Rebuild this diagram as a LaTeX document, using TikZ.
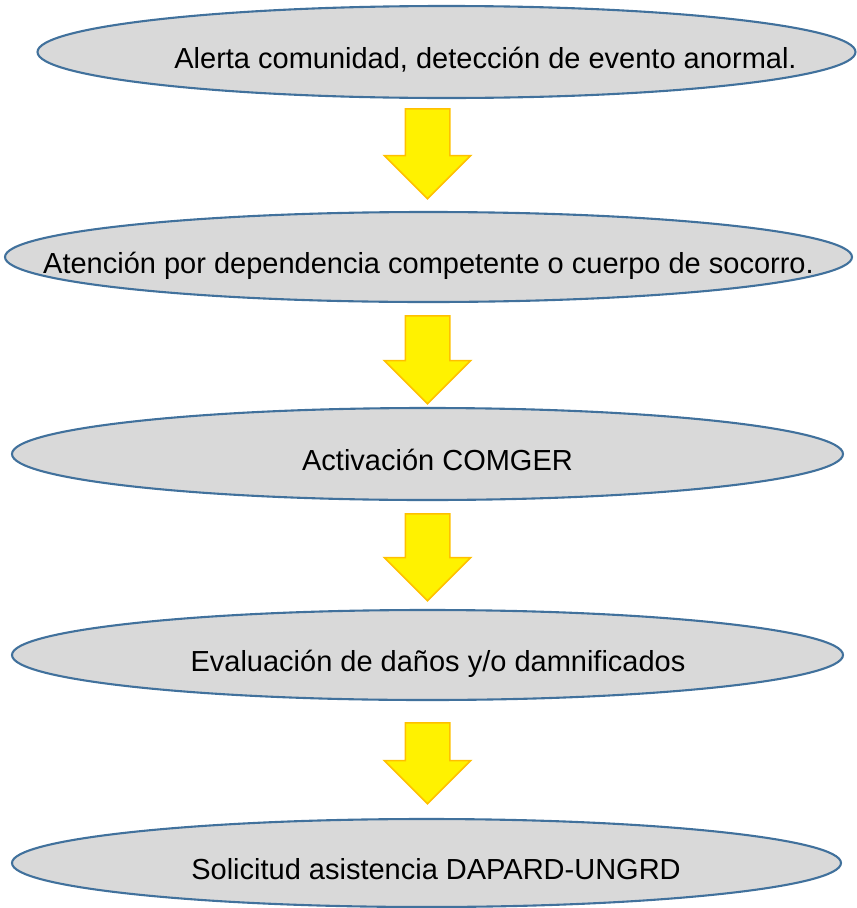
\documentclass[tikz,border=0pt]{standalone}
\usepackage{fontspec}
\setmainfont{Liberation Sans}
\usetikzlibrary{shapes.geometric, shapes.arrows}
\definecolor{stepgray}{HTML}{D9D9D9}
\definecolor{stepblue}{HTML}{41719C}
\definecolor{arrowline}{HTML}{FFC000}
\newcommand{\steplabel}[2]{\makebox[0pt]{\hspace*{#1}#2}}
\tikzstyle{stage} = [ellipse, draw=stepblue, line width=2.1pt, fill=stepgray, inner sep=0pt, text height=36pt, text depth=3pt, font=\fontsize{29}{34}\selectfont]
\tikzstyle{downarrow} = [single arrow, shape border rotate=270, anchor=tail, draw=arrowline, line width=1.5pt, fill=yellow, minimum width=85pt, single arrow head extend=21pt, inner sep=21.5pt]

\begin{document}
\begin{tikzpicture}[x=1pt, y=1pt, yscale=-1]
\useasboundingbox (0,0) rectangle (857,908);

\node at (446.5, 52) (alerta) [stage, minimum width=818pt, minimum height=92pt] {\steplabel{78pt}{Alerta comunidad, detección de evento anormal.}};
\node at (428.5, 257) (atencion) [stage, minimum width=847pt, minimum height=90pt] {\steplabel{0pt}{Atención por dependencia competente o cuerpo de socorro.}};
\node at (427.5, 454) (comger) [stage, minimum width=831pt, minimum height=92pt] {\steplabel{20pt}{Activación COMGER}};
\node at (427.5, 655) (evaluacion) [stage, minimum width=831pt, minimum height=90pt] {\steplabel{21pt}{Evaluación de daños y/o damnificados}};
\node at (426.5, 863) (solicitud) [stage, minimum width=829pt, minimum height=88pt] {\steplabel{19pt}{Solicitud asistencia DAPARD-UNGRD}};

\node at (427.5, 108) (flecha1) [downarrow, minimum height=90pt] {};
\node at (427.5, 315) (flecha2) [downarrow, minimum height=88pt] {};
\node at (427.5, 513) (flecha3) [downarrow, minimum height=87pt] {};
\node at (427.5, 722) (flecha4) [downarrow, minimum height=81pt] {};

\end{tikzpicture}
\end{document}
